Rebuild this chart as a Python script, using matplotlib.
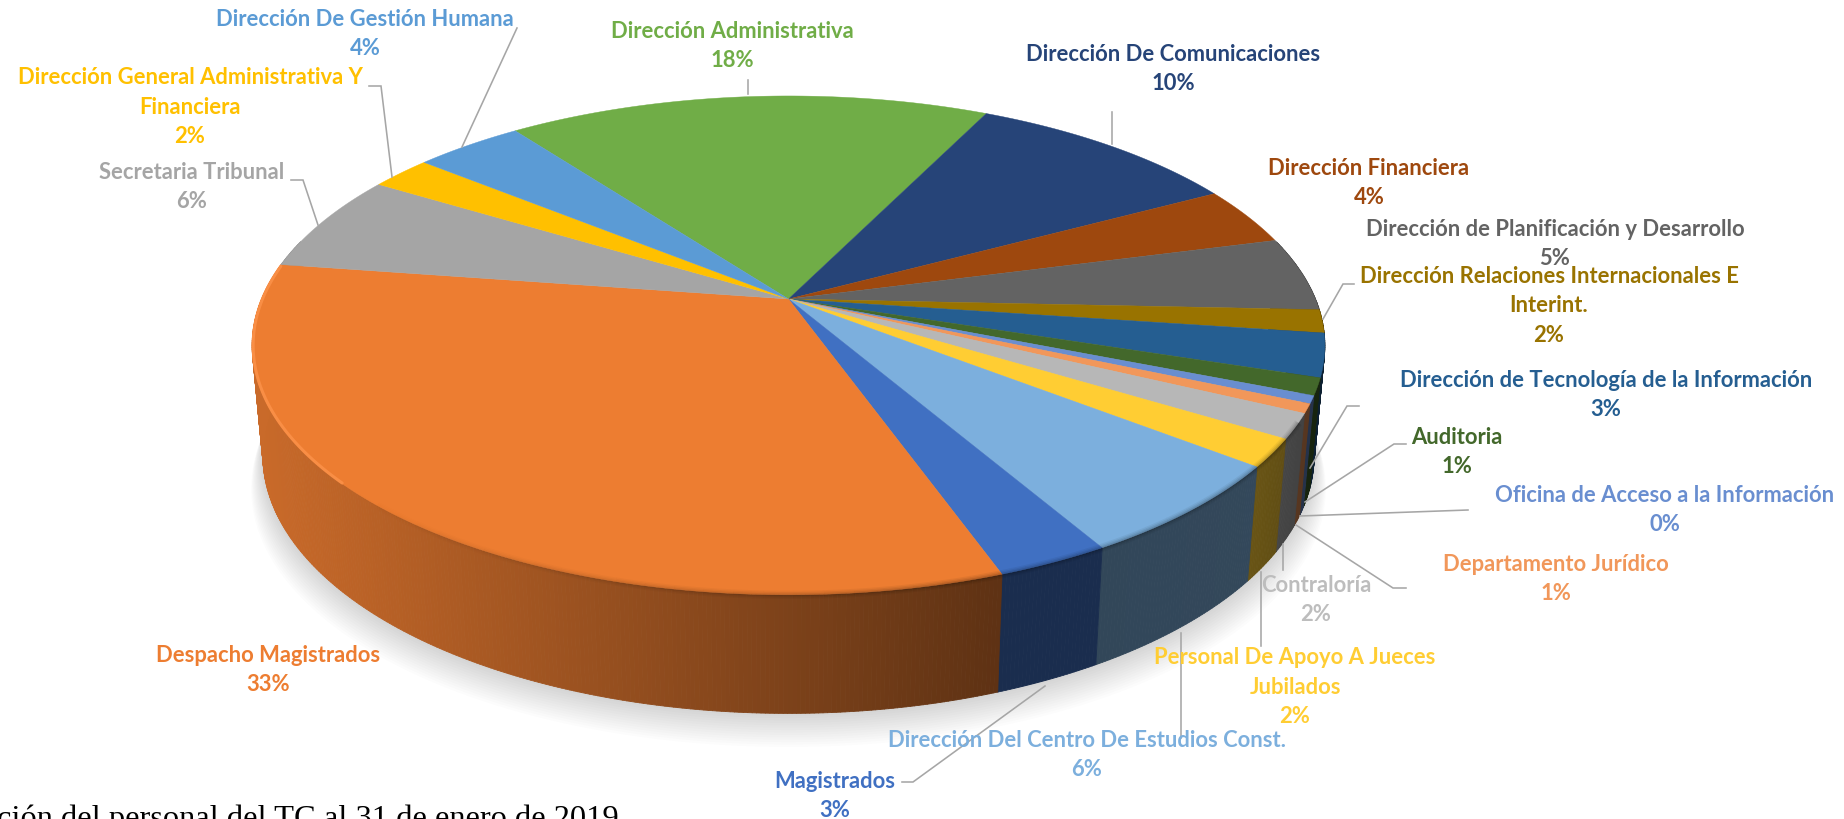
import numpy as np
import matplotlib
matplotlib.use("Agg")
import matplotlib.pyplot as plt
from matplotlib.collections import PolyCollection
from matplotlib.colors import to_rgb

categories = ["Dirección Administrativa", "Dirección De Comunicaciones", "Dirección Financiera",
              "Dirección de Planificación y Desarrollo", "Dirección Relaciones Internacionales E\nInterint.",
              "Dirección de Tecnología de la Información", "Auditoria", "Oficina de Acceso a la Información",
              "Departamento Jurídico", "Contraloría", "Personal De Apoyo A Jueces\nJubilados",
              "Dirección Del Centro De Estudios Const.", "Magistrados", "Despacho Magistrados",
              "Secretaria Tribunal", "Dirección General Administrativa Y\nFinanciera", "Dirección De Gestión Humana"]
values = [17.4, 9.9, 3.8, 4.8, 1.5, 2.8, 1.1, 0.5, 0.6, 1.6, 1.8, 6.1, 2.9, 32.8, 6.4, 2.2, 3.9]
pct_labels = ["18%", "10%", "4%", "5%", "2%", "3%", "1%", "0%", "1%", "2%", "2%", "6%", "3%", "33%", "6%", "2%", "4%"]
colors = ["#70AD47", "#264478", "#9E480E", "#636363", "#997300", "#255E91", "#43682B", "#698ED0",
          "#F1975A", "#B7B7B7", "#FFCD33", "#7CAFDD", "#4070C2", "#ED7D31", "#A5A5A5", "#FFC000", "#5B9BD5"]
text_colors = colors[:]
text_colors[9] = "#BDBDBD"
label_xy = [(732, 46), (1173, 69), (1369, 183), (1555, 244), (1549, 306), (1606, 395), (1457, 452), (1665, 510),
            (1556, 579), (1316, 600), (1295, 687), (1087, 755), (835, 796), (268, 670), (192, 187), (190, 107), (365, 34)]
leaders = [[(748, 80), (748, 94)], [(1112, 112), (1112, 144)], None, None,
           [(1354, 284), (1343, 284), (1323, 319)], [(1359, 406), (1347, 406), (1310, 468)],
           [(1406, 444), (1394, 444), (1305, 502)], [(1468, 510), (1300, 516)],
           [(1406, 588), (1393, 588), (1296, 525)], [(1283, 544), (1283, 570)], [(1261, 572), (1261, 646)],
           [(1181, 633), (1181, 738)], [(1045, 686), (913, 782), (902, 782)], None,
           [(291, 180), (303, 180), (318, 225)], [(369, 86), (381, 86), (392, 177)], [(517, 28), (462, 147)]]
caption = "ción del personal del TC al 31 de enero de 2019"

START = -36.6
CX, CY, A, B, K = 788.5, 299.0, 527.0, 240.8, 0.186

def top(theta):
    t = np.radians(theta)
    w = 1 + K * np.cos(t)
    return CX + A * np.sin(t) / w, CY - B * np.cos(t) / w

def bottom(theta):
    x, y = top(theta)
    return CX + 0.98 * (x - CX), y + 114 + (y - 464) * 0.035

def shade(x):
    return np.interp(x, [252, 370, 700, 1000, 1260, 1335], [.85, .78, .58, .40, .41, .33])

fig = plt.figure(figsize=(18.44, 8.19), dpi=100)
ax = fig.add_axes([0, 0, 1, 1])
ax.set_xlim(0, 1844)
ax.set_ylim(819, 0)
ax.axis("off")

angles = 360 * np.cumsum([0] + values) / np.sum(values) + START

# soft shadow under the pie
th = np.linspace(60, 300, 240)
bx, by = bottom(th)
for i in range(1, 15):
    sx = CX + (bx - CX) * (1 + i * 0.0016)
    sy = by + i * 2.4
    ax.fill(np.r_[sx, CX], np.r_[sy, 300], color="black", alpha=0.011, lw=0, zorder=1)

# side wall, then top face
for a0, a1, c in zip(angles[:-1], angles[1:], colors):
    rgb = np.array(to_rgb(c))
    th = np.arange(a0, a1 + 0.4, 0.4)
    th[-1] = a1
    keep = np.cos(np.radians(th)) < 0.25
    th = th[keep]
    if len(th) < 2:
        continue
    tx, ty = top(th)
    ux, uy = bottom(th)
    quads = [[(tx[i], ty[i]), (tx[i + 1], ty[i + 1]), (ux[i + 1], uy[i + 1]), (ux[i], uy[i])]
             for i in range(len(th) - 1)]
    cols = [tuple(rgb * shade(tx[i])) for i in range(len(th) - 1)]
    ax.add_collection(PolyCollection(quads, facecolors=cols, edgecolors=cols, linewidths=0.6, zorder=2))

for a0, a1, c in zip(angles[:-1], angles[1:], colors):
    th = np.linspace(a0, a1, max(int(a1 - a0) * 3, 4))
    tx, ty = top(th)
    ax.fill(np.r_[CX, tx], np.r_[CY, ty], color=c, lw=0.3, zorder=3)

# rim: light on the left, soft dark on the front
th = np.linspace(228, 278, 90)
tx, ty = top(th)
ax.plot(tx + 1, ty, color="#F98E45", lw=2.2, zorder=4, solid_capstyle="round")
edges = np.linspace(118, 225, 41)
for a0, a1 in zip(edges[:-1], edges[1:]):
    ramp = np.interp(0.5 * (a0 + a1), [118, 165, 225], [1.0, 1.0, 0.0])
    tx, ty = top(np.linspace(a0, a1, 5))
    for lw, al in [(6, .05), (4, .07), (2, .10)]:
        ax.plot(tx, ty, color="black", lw=lw, alpha=al * ramp, zorder=4, solid_capstyle="butt")

for pts in leaders:
    if pts:
        xs, ys = zip(*pts)
        ax.plot(xs, ys, color="#A6A6A6", lw=1.15, zorder=5, solid_joinstyle="miter")

for name, pct, (x, y), c in zip(categories, pct_labels, label_xy, text_colors):
    ax.text(x, y, f"{name}\n{pct}", ha="center", va="center", color=c, fontsize=15.8,
            fontfamily="Lato", fontweight="bold", linespacing=1.49, zorder=6)

ax.text(-3, 827, caption, ha="left", va="baseline", fontsize=23.4, fontfamily="Liberation Serif",
        color="black", zorder=6, clip_on=False)

fig.savefig("out.png", dpi=100, facecolor="white")
